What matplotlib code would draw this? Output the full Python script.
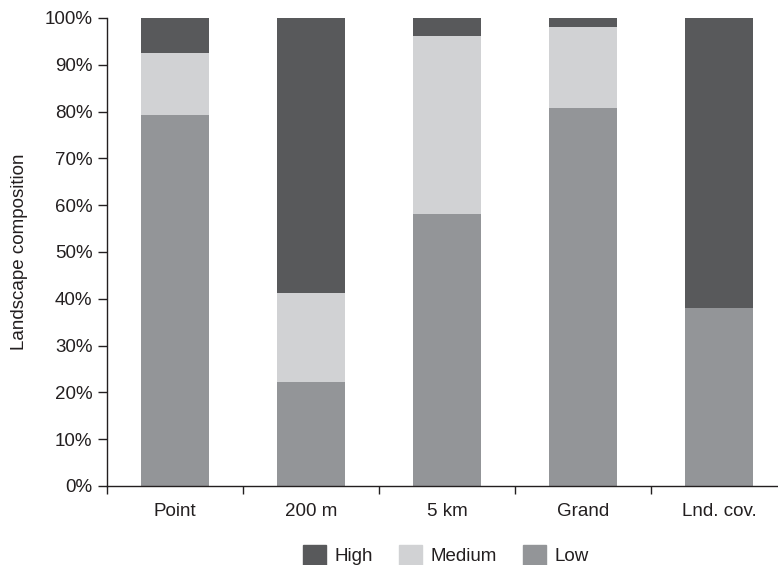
import matplotlib
matplotlib.use('Agg')
import matplotlib.pyplot as plt
from matplotlib.patches import Patch
from matplotlib.ticker import PercentFormatter, FixedLocator

# Dati (percentuali)
categories = ['Point', '200 m', '5 km', 'Grand', 'Lnd. cov.']
low = [79.3, 22.2, 58.1, 80.8, 38.0]
medium = [13.2, 19.0, 38.0, 17.3, 0.0]
high = [7.5, 58.8, 3.9, 1.9, 62.0]

c_high = '#58595b'
c_med = '#d1d2d4'
c_low = '#939598'

plt.rcParams['font.family'] = ['Liberation Sans', 'DejaVu Sans']

fig = plt.figure(figsize=(7.78, 5.65), dpi=100)
ax = fig.add_axes([107 / 778, 79 / 565, 680 / 778, 468 / 565])

x = list(range(len(categories)))
bottom_med = low
bottom_high = [l + m for l, m in zip(low, medium)]

ax.bar(x, low, width=0.5, color=c_low)
ax.bar(x, medium, width=0.5, bottom=bottom_med, color=c_med)
ax.bar(x, high, width=0.5, bottom=bottom_high, color=c_high)

ax.set_xlim(-0.5, len(categories) - 0.5)
ax.set_ylim(0, 100)
ax.set_yticks(range(0, 101, 10))
ax.yaxis.set_major_formatter(PercentFormatter(decimals=0))

ax.set_xticks(x)
ax.set_xticklabels(categories)
ax.xaxis.set_minor_locator(FixedLocator([i - 0.5 for i in range(len(categories) + 1)]))
ax.tick_params(axis='x', which='major', length=0, pad=12, labelsize=13.5, colors='#231f20')
ax.tick_params(axis='x', which='minor', length=6, width=1, color='#231f20')
ax.tick_params(axis='y', length=6.5, width=1, pad=4, labelsize=13.5, colors='#231f20')

for s in ['top', 'right']:
    ax.spines[s].set_visible(False)
for s in ['left', 'bottom']:
    ax.spines[s].set_linewidth(1)
    ax.spines[s].set_color('#231f20')

ax.set_ylabel('Landscape composition', fontsize=13.5, color='#231f20', labelpad=12)

handles = [Patch(color=c_high, label='High'),
           Patch(color=c_med, label='Medium'),
           Patch(color=c_low, label='Low')]
fig.legend(handles=handles, loc='lower center', bbox_to_anchor=(0.573, -0.03), ncol=3,
           frameon=False, fontsize=13.5, handlelength=1.23, handleheight=1.23,
           handletextpad=0.45, columnspacing=1.4, labelcolor='#231f20')

fig.savefig('out.png', dpi=100)
